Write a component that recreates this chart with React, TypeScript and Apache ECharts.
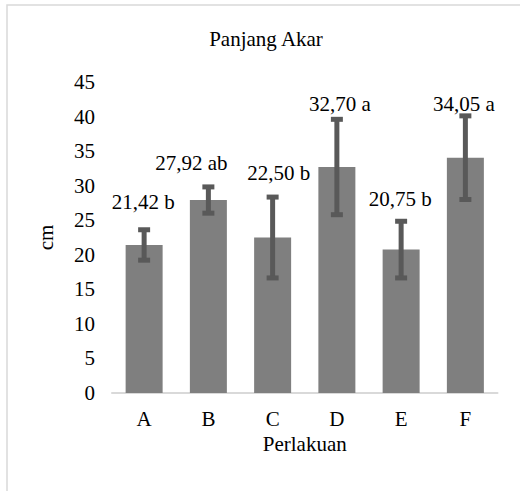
import React, { useEffect, useRef } from "react";
import * as echarts from "echarts";

const categories = ["A", "B", "C", "D", "E", "F"];
const means = [21.42, 27.92, 22.5, 32.7, 20.75, 34.05];
const errors = [2.2, 1.9, 5.85, 6.9, 4.1, 6.05];
const letters = ["b", "ab", "b", "a", "b", "a"];
const yTicks = { min: 0, max: 45, interval: 5 };

// label layout offsets (px): horizontal shift, gap above the error bar top
const labelDx = [-1, -17, 6, 3, -1, -1.5];
const labelGap = [28, 24, 24, 15, 22, 12];

const FONT = "Liberation Serif";

export default function App() {
  const ref = useRef<HTMLDivElement>(null);
  useEffect(() => {
    document.body.style.margin = "0";
    if (!ref.current) return;
    const chart = echarts.init(ref.current, undefined, { renderer: "svg" });
    const errData = categories.map((_, i) => [i, means[i], errors[i]]);
    chart.setOption({
      animation: false,
      backgroundColor: "#ffffff",
      textStyle: { fontFamily: FONT },
      graphic: [
        {
          type: "rect",
          shape: { x: 7, y: 5, width: 700, height: 700 },
          style: { fill: "none", stroke: "#d9d9d9", lineWidth: 1.5 },
          silent: true,
        },
        {
          type: "text",
          x: 266,
          y: 39,
          style: {
            text: "Panjang Akar",
            fontFamily: FONT,
            fontSize: 21,
            fill: "#000",
            align: "center",
            verticalAlign: "middle",
          },
          silent: true,
        },
      ],
      grid: { left: 112, right: 22.5, top: 82, bottom: 98 },
      xAxis: {
        type: "category",
        data: categories,
        axisLine: { show: true, lineStyle: { color: "#d9d9d9", width: 2 } },
        axisTick: { show: false },
        axisLabel: { fontFamily: FONT, fontSize: 21, color: "#000", margin: 15 },
        name: "Perlakuan",
        nameLocation: "middle",
        nameGap: 37,
        nameTextStyle: { fontFamily: FONT, fontSize: 21, color: "#000" },
      },
      yAxis: {
        type: "value",
        min: yTicks.min,
        max: yTicks.max,
        interval: yTicks.interval,
        axisLine: { show: false },
        axisTick: { show: false },
        splitLine: { show: false },
        axisLabel: { fontFamily: FONT, fontSize: 21, color: "#000", margin: 17 },
        name: "cm",
        nameLocation: "middle",
        nameRotate: 90,
        nameGap: 56,
        nameTextStyle: { fontFamily: FONT, fontSize: 21, color: "#000" },
      },
      series: [
        {
          type: "bar",
          data: means,
          barWidth: 37,
          itemStyle: { color: "#7f7f7f" },
        },
        {
          type: "custom",
          data: errData,
          z: 10,
          renderItem: (params: any, api: any) => {
            const i = api.value(0);
            const m = api.value(1);
            const e = api.value(2);
            const top = api.coord([i, m + e]);
            const bot = api.coord([i, m - e]);
            const x = top[0];
            const hw = 6;
            const st = { stroke: "#595959", lineWidth: 5 };
            const txt = means[i].toFixed(2).replace(".", ",") + " " + letters[i];
            return {
              type: "group",
              children: [
                { type: "line", shape: { x1: x, y1: top[1], x2: x, y2: bot[1] }, style: st },
                { type: "line", shape: { x1: x - hw, y1: top[1], x2: x + hw, y2: top[1] }, style: st },
                { type: "line", shape: { x1: x - hw, y1: bot[1], x2: x + hw, y2: bot[1] }, style: st },
                {
                  type: "text",
                  x: x + labelDx[i],
                  y: top[1] - labelGap[i],
                  style: {
                    text: txt,
                    align: "center",
                    verticalAlign: "middle",
                    fontFamily: FONT,
                    fontSize: 21,
                    fill: "#000",
                  },
                },
              ],
            };
          },
        },
      ],
    });
    return () => chart.dispose();
  }, []);
  return <div ref={ref} style={{ width: 520, height: 491 }} />;
}
